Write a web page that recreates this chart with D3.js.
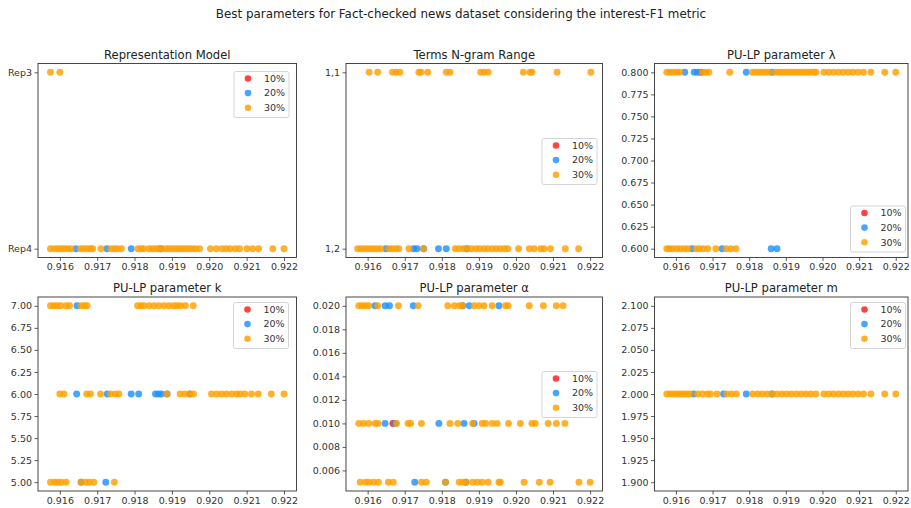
<!DOCTYPE html>
<html><head><meta charset="utf-8">
<script src="https://cdn.jsdelivr.net/npm/d3@7"></script>
<style>
body{margin:0;background:#fff}
svg{display:block}
text{font-family:"DejaVu Sans",sans-serif}
</style>
</head><body>
<svg id="c" width="911" height="508"></svg>
<script>
// ---------------- DATA ----------------
const mainTitle = "Best parameters for Fact-checked news dataset considering the interest-F1 metric";
const seriesLabels = ["10%", "20%", "30%"];
const xTickValues = [0.916, 0.917, 0.918, 0.919, 0.920, 0.921, 0.922];

// Panel 1: Representation Model (levels bottom -> top)
const repLevels = ["Rep4", "Rep3"];
const repPoints = [
  ["Rep3", "30%", [0.91575, 0.91600]],
  ["Rep4", "20%", [0.91643, 0.91726, 0.91791, 0.91870]],
  ["Rep4", "30%", [0.91575, 0.91586, 0.91595, 0.91604, 0.91612, 0.91621, 0.91630,
    0.91655, 0.91664, 0.91673, 0.91682, 0.91688, 0.91710, 0.91737, 0.91746, 0.91754, 0.91765,
    0.91809, 0.91818, 0.91825, 0.91839, 0.91848, 0.91857, 0.91865, 0.91872,
    0.91883, 0.91892, 0.91901, 0.91910, 0.91919, 0.91928, 0.91936, 0.91945, 0.91954, 0.91963, 0.91974,
    0.92003, 0.92019, 0.92034, 0.92045, 0.92056, 0.92070, 0.92081, 0.92101, 0.92116, 0.92132, 0.92170, 0.92200]]
];

// Panel 2: Terms N-gram Range (levels bottom -> top)
const ngramLevels = ["1,2", "1,1"];
const ngramPoints = [
  ["1,1", "30%", [0.91604, 0.91627, 0.91667, 0.91677, 0.91687, 0.91738, 0.91744, 0.91762,
    0.91812, 0.91822, 0.91905, 0.91914, 0.91925, 0.92020, 0.92038, 0.92043, 0.92111, 0.92202]],
  ["1,2", "20%", [0.91649, 0.91724, 0.91733, 0.91751, 0.91791, 0.91812, 0.91867]],
  ["1,2", "30%", [0.91573, 0.91582, 0.91591, 0.91600, 0.91609, 0.91618, 0.91627, 0.91636,
    0.91658, 0.91667, 0.91676, 0.91684, 0.91711, 0.91751,
    0.91836, 0.91847, 0.91858, 0.91869, 0.91880, 0.91892, 0.91902, 0.91914, 0.91924, 0.91936,
    0.91947, 0.91958, 0.91969, 0.91978, 0.92007, 0.92036, 0.92049, 0.92067, 0.92076, 0.92093,
    0.92133, 0.92169]]
];

// Panel 3: PU-LP parameter lambda
const lambdaTicks = [0.600, 0.625, 0.650, 0.675, 0.700, 0.725, 0.750, 0.775, 0.800];
const lambdaPoints = [
  [0.8, "10%", [0.91668]],
  [0.8, "20%", [0.91624, 0.91650, 0.91659, 0.91792, 0.91862]],
  [0.8, "30%", [0.91575, 0.91584, 0.91593, 0.91602, 0.91610, 0.91672, 0.91681, 0.91690, 0.91747,
    0.91809, 0.91818, 0.91827, 0.91836, 0.91845, 0.91854, 0.91871, 0.91880, 0.91889, 0.91898,
    0.91907, 0.91915, 0.91924, 0.91933, 0.91942, 0.91951, 0.91960, 0.91968, 0.91977, 0.91982,
    0.92004, 0.92017, 0.92030, 0.92044, 0.92057, 0.92070, 0.92083, 0.92097, 0.92112, 0.92132,
    0.92170, 0.92200]],
  [0.6, "20%", [0.91644, 0.91726, 0.91860, 0.91876]],
  [0.6, "30%", [0.91575, 0.91582, 0.91591, 0.91602, 0.91612, 0.91623, 0.91632, 0.91655, 0.91664,
    0.91675, 0.91687, 0.91709, 0.91737, 0.91750, 0.91764]]
];

// Panel 4: PU-LP parameter k
const kTicks = [5.00, 5.25, 5.50, 5.75, 6.00, 6.25, 6.50, 6.75, 7.00];
const kPoints = [
  [7, "20%", [0.91646]],
  [7, "30%", [0.91575, 0.91584, 0.91593, 0.91602, 0.91617, 0.91626, 0.91657, 0.91666, 0.91673,
    0.91808, 0.91817, 0.91825, 0.91839, 0.91852, 0.91865, 0.91879, 0.91892, 0.91905, 0.91914,
    0.91923, 0.91936, 0.91957]],
  [6, "20%", [0.91645, 0.91727, 0.91791, 0.91811, 0.91856, 0.91864, 0.91872, 0.91887, 0.91948]],
  [6, "30%", [0.91600, 0.91611, 0.91672, 0.91682, 0.91709, 0.91736, 0.91749, 0.91758, 0.91887,
    0.91922, 0.91935, 0.91948, 0.91958, 0.92006, 0.92020, 0.92033, 0.92046, 0.92060, 0.92073,
    0.92082, 0.92095, 0.92113, 0.92131, 0.92166, 0.92200]],
  [5, "20%", [0.91657, 0.91723]],
  [5, "30%", [0.91575, 0.91586, 0.91595, 0.91604, 0.91617, 0.91657, 0.91670, 0.91679, 0.91691, 0.91746]]
];

// Panel 5: PU-LP parameter alpha
const alphaTicks = [0.006, 0.008, 0.010, 0.012, 0.014, 0.016, 0.018, 0.020];
const alphaPoints = [
  [0.020, "20%", [0.91620, 0.91647, 0.91659, 0.91723, 0.91856, 0.91874, 0.91954]],
  [0.020, "30%", [0.91576, 0.91585, 0.91594, 0.91603, 0.91627, 0.91683, 0.91736, 0.91816, 0.91834,
    0.91847, 0.91856, 0.91887, 0.91900, 0.91914, 0.91936, 0.91972, 0.91979, 0.92036, 0.92074,
    0.92109, 0.92127]],
  [0.010, "10%", [0.91668]],
  [0.010, "20%", [0.91647, 0.91675, 0.91792, 0.91860, 0.91887]],
  [0.010, "30%", [0.91576, 0.91589, 0.91603, 0.91620, 0.91628, 0.91678, 0.91709, 0.91716, 0.91745,
    0.91822, 0.91843, 0.91883, 0.91909, 0.91918, 0.91936, 0.91949, 0.91980, 0.92012, 0.92043,
    0.92052, 0.92087, 0.92109, 0.92132]],
  [0.005, "20%", [0.91727, 0.91810, 0.91865]],
  [0.005, "30%", [0.91580, 0.91594, 0.91603, 0.91616, 0.91629, 0.91656, 0.91669, 0.91745, 0.91758,
    0.91810, 0.91847, 0.91856, 0.91865, 0.91883, 0.91896, 0.91909, 0.91925, 0.91954, 0.91958,
    0.92022, 0.92063, 0.92092, 0.92170, 0.92200]]
];

// Panel 6: PU-LP parameter m
const mTicks = [1.900, 1.925, 1.950, 1.975, 2.000, 2.025, 2.050, 2.075, 2.100];
const mPoints = [
  [2.0, "20%", [0.91648, 0.91730, 0.91792, 0.91862]],
  [2.0, "30%", [0.91575, 0.91584, 0.91593, 0.91602, 0.91610, 0.91619, 0.91628, 0.91637,
    0.91659, 0.91672, 0.91686, 0.91694, 0.91712, 0.91739, 0.91752, 0.91765,
    0.91809, 0.91823, 0.91836, 0.91849, 0.91864, 0.91876, 0.91889, 0.91902, 0.91915, 0.91929,
    0.91942, 0.91955, 0.91968, 0.91982, 0.92004, 0.92017, 0.92030, 0.92044, 0.92057, 0.92070,
    0.92083, 0.92097, 0.92112, 0.92132, 0.92170, 0.92200]]
];

// ---------------- STYLE / LAYOUT ----------------
const seriesColors = {"10%": "#ff1a1a", "20%": "#1e90ff", "30%": "#ffa000"};
const dotOpacity = 0.82;
const FONT_TICK = 9.5, FONT_TITLE = 11.6;

const panels = [
  {title: "Representation Model", levels: repLevels, points: repPoints,
   left: 38, right: 296.5, top: 63.5, bottom: 257.5, legend: [234, 71.5]},
  {title: "Terms N-gram Range", levels: ngramLevels, points: ngramPoints,
   left: 346, right: 602.5, top: 63.5, bottom: 257.5, legend: [542, 138.5]},
  {title: "PU-LP parameter λ", ticks: lambdaTicks, fmt: ".3f", points: lambdaPoints,
   left: 654.5, right: 908, top: 63.5, bottom: 257.5, legend: [850.5, 206]},
  {title: "PU-LP parameter k", ticks: kTicks, fmt: ".2f", points: kPoints,
   left: 38, right: 296.5, top: 297, bottom: 491, legend: [233.5, 302.5]},
  {title: "PU-LP parameter α", ticks: alphaTicks, fmt: ".3f", points: alphaPoints,
   left: 346, right: 602.5, top: 297, bottom: 491, legend: [542, 371.5]},
  {title: "PU-LP parameter m", ticks: mTicks, fmt: ".3f", points: mPoints,
   left: 654.5, right: 908, top: 297, bottom: 491, legend: [850.5, 302.5]}
];

// ---------------- DRAW ----------------
const svg = d3.select("#c");
svg.append("rect").attr("width", 911).attr("height", 508).attr("fill", "#fff");

svg.append("text").attr("x", 461).attr("y", 18).attr("text-anchor", "middle")
  .attr("font-size", 11.9).attr("fill", "#222").text(mainTitle);

const allX = panels.flatMap(p => p.points.flatMap(r => r[2]));
const [xMin, xMax] = d3.extent(allX);
const xPad = (xMax - xMin) * 0.05;

panels.forEach(p => {
  const g = svg.append("g");
  const x = d3.scaleLinear().domain([xMin - xPad, xMax + xPad]).range([p.left, p.right]);
  let y, yAxis;
  if (p.levels) {
    y = d3.scalePoint().domain(p.levels).range([p.bottom, p.top]).padding(0.05);
    yAxis = d3.axisLeft(y);
  } else {
    const vals = p.points.map(r => r[0]);
    let [lo, hi] = d3.extent(vals);
    if (lo === hi) { lo -= 0.1; hi += 0.1; }
    const pad = (hi - lo) * 0.05;
    y = d3.scaleLinear().domain([lo - pad, hi + pad]).range([p.bottom, p.top]);
    yAxis = d3.axisLeft(y).tickValues(p.ticks).tickFormat(d3.format(p.fmt));
  }

  // points: series order 10%, 20%, 30%
  seriesLabels.forEach(s => {
    p.points.filter(r => r[1] === s).forEach(r => {
      g.append("g").selectAll("circle").data(r[2]).join("circle")
        .attr("cx", d => x(d)).attr("cy", y(r[0])).attr("r", 3.45)
        .attr("fill", seriesColors[s]).attr("fill-opacity", dotOpacity);
    });
  });

  // axes
  const xa = g.append("g").attr("transform", `translate(0,${p.bottom})`)
    .call(d3.axisBottom(x).tickValues(xTickValues).tickFormat(d3.format(".3f"))
      .tickSize(3.5).tickSizeOuter(0).tickPadding(2.5));
  const ya = g.append("g").attr("transform", `translate(${p.left},0)`)
    .call(yAxis.tickSize(3.5).tickSizeOuter(0).tickPadding(2.5));
  [xa, ya].forEach(a => {
    a.select(".domain").remove();
    a.selectAll("line").attr("stroke", "#333").attr("stroke-width", 0.8);
    a.selectAll("text").attr("font-size", FONT_TICK).attr("fill", "#333")
      .attr("font-family", "DejaVu Sans");
  });

  // frame
  g.append("rect").attr("x", p.left).attr("y", p.top)
    .attr("width", p.right - p.left).attr("height", p.bottom - p.top)
    .attr("fill", "none").attr("stroke", "#333").attr("stroke-width", 0.9);

  // title
  g.append("text").attr("x", (p.left + p.right) / 2).attr("y", p.top - 5)
    .attr("text-anchor", "middle").attr("font-size", FONT_TITLE).attr("fill", "#222")
    .text(p.title);

  // legend
  const [lx, ly] = p.legend;
  const lg = g.append("g").attr("transform", `translate(${lx},${ly})`);
  lg.append("rect").attr("width", 55).attr("height", 46).attr("rx", 2)
    .attr("fill", "#fff").attr("fill-opacity", 0.8)
    .attr("stroke", "#d0d0d0").attr("stroke-width", 0.9);
  seriesLabels.forEach((s, i) => {
    const cy = 7 + i * 14.6;
    lg.append("circle").attr("cx", 14).attr("cy", cy).attr("r", 3.3)
      .attr("fill", seriesColors[s]).attr("fill-opacity", dotOpacity);
    lg.append("text").attr("x", 30).attr("y", cy).attr("dy", "0.35em")
      .attr("font-size", FONT_TICK).attr("fill", "#333").text(s);
  });
});
</script>
</body></html>
